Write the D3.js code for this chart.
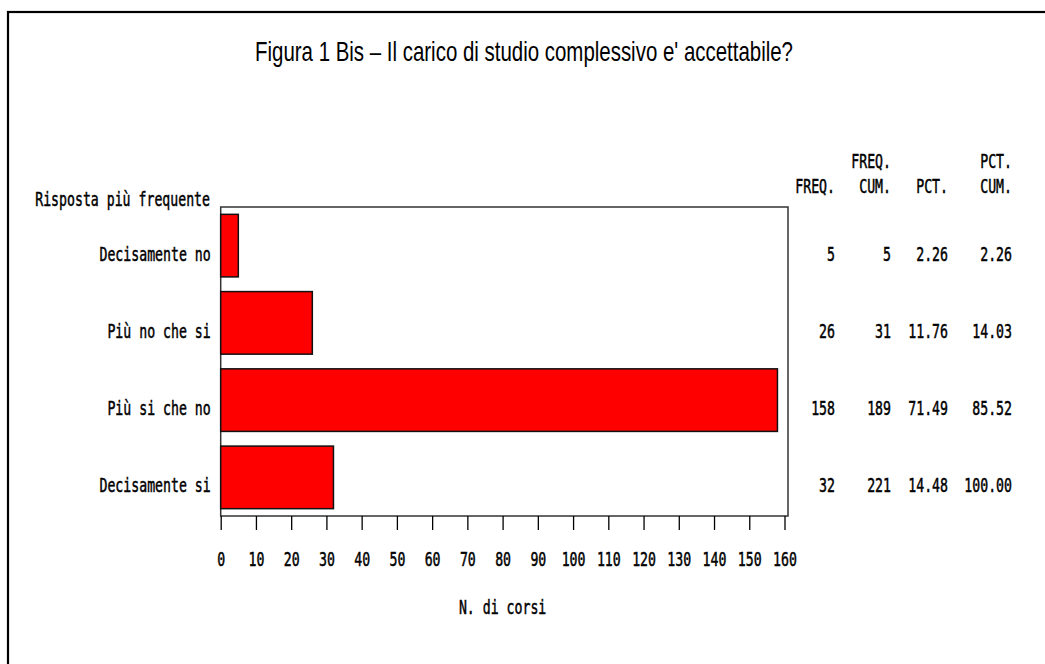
<!DOCTYPE html>
<html>
<head>
<meta charset="utf-8">
<script src="https://cdn.jsdelivr.net/npm/d3@7"></script>
<style>
  html, body { margin: 0; padding: 0; background: #ffffff; }
  svg { display: block; }
  .mono { font-family: "DejaVu Sans Mono", monospace; font-size: 20px; font-weight: normal; fill: #000; stroke: #000; stroke-width: 0.5px; }
</style>
</head>
<body>
<svg id="chart" width="1045" height="664"></svg>
<script>
// ---- data ----
const categories = ["Decisamente no", "Più no che si", "Più si che no", "Decisamente si"];
const freq = [5, 26, 158, 32];
const cumFreq = [5, 31, 189, 221];
const pct = ["2.26", "11.76", "71.49", "14.48"];
const cumPct = ["2.26", "14.03", "85.52", "100.00"];
const xTicks = [0, 10, 20, 30, 40, 50, 60, 70, 80, 90, 100, 110, 120, 130, 140, 150, 160];
const titleText = "Figura 1 Bis \u2013 Il carico di studio complessivo e' accettabile?";
const yTitle = "Risposta più frequente";
const xTitle = "N. di corsi";
const colHeaders = [["", "FREQ."], ["FREQ.", "CUM."], ["", "PCT."], ["PCT.", "CUM."]];

// ---- layout ----
const svg = d3.select("#chart");
const plot = { left: 220.7, right: 788, top: 207, bottom: 516 };
const x = d3.scaleLinear().domain([0, 160]).range([plot.left, 784.5]);
const y = d3.scaleBand().domain(categories).range([plot.top, plot.bottom])
  .paddingInner(0.19).paddingOuter(0.095);

const SX = 0.66;
function mono(parent, px, py, str, anchor) {
  return parent.append("text").attr("class", "mono")
    .attr("transform", `translate(${px},${py}) scale(${SX},1)`)
    .attr("text-anchor", anchor).text(str);
}

// outer frame
svg.append("rect").attr("x", 8).attr("y", 12).attr("width", 1100).attr("height", 700)
  .attr("fill", "#fff").attr("stroke", "#000").attr("stroke-width", 2.2);

// title
svg.append("text").attr("x", 524).attr("y", 61).attr("text-anchor", "middle")
  .attr("font-family", "Liberation Sans, Arial, sans-serif").attr("font-size", 28)
  .attr("textLength", 538).attr("lengthAdjust", "spacingAndGlyphs")
  .text(titleText);

// plot frame
svg.append("rect").attr("x", plot.left).attr("y", plot.top)
  .attr("width", plot.right - plot.left).attr("height", plot.bottom - plot.top)
  .attr("fill", "#fff").attr("stroke", "#333").attr("stroke-width", 1.5);

// bars
svg.append("g").selectAll("rect").data(categories).join("rect")
  .attr("x", x(0))
  .attr("y", d => y(d))
  .attr("width", (d, i) => x(freq[i]) - x(0))
  .attr("height", y.bandwidth())
  .attr("fill", "#ff0000").attr("stroke", "#111").attr("stroke-width", 1.5);

// x axis
const xAxis = svg.append("g").attr("transform", `translate(0,${plot.bottom})`)
  .call(d3.axisBottom(x).tickValues(xTicks).tickSize(14).tickFormat(d3.format("d")));
xAxis.select(".domain").remove();
xAxis.selectAll(".tick line").attr("stroke", "#000").attr("stroke-width", 1.3);
xAxis.selectAll(".tick text")
  .attr("class", "mono").attr("y", null).attr("dy", null)
  .attr("transform", `translate(0,50) scale(${SX},1)`)
  .attr("font-family", null).attr("font-size", null).attr("fill", "#000");

// y axis labels
const yAxis = svg.append("g").attr("transform", `translate(${plot.left},0)`)
  .call(d3.axisLeft(y).tickSize(0));
yAxis.select(".domain").remove();
yAxis.selectAll(".tick text")
  .attr("class", "mono").attr("x", null).attr("dy", null)
  .attr("transform", `translate(-10,15) scale(${SX},1)`)
  .attr("font-family", null).attr("font-size", null).attr("fill", "#000");

// axis titles
mono(svg, 210, 206, yTitle, "end");
mono(svg, (x(0) + x(160)) / 2, 614, xTitle, "middle");

// table
const colX = [835, 891, 948, 1012];
const cols = [freq, cumFreq, pct, cumPct];
colHeaders.forEach((h, j) => {
  if (h[0]) mono(svg, colX[j], 168, h[0], "end");
  mono(svg, colX[j], 193, h[1], "end");
});
categories.forEach((c, i) => {
  const cy = y(c) + y.bandwidth() / 2 + 15;
  cols.forEach((col, j) => mono(svg, colX[j], cy, String(col[i]), "end"));
});
</script>
</body>
</html>
